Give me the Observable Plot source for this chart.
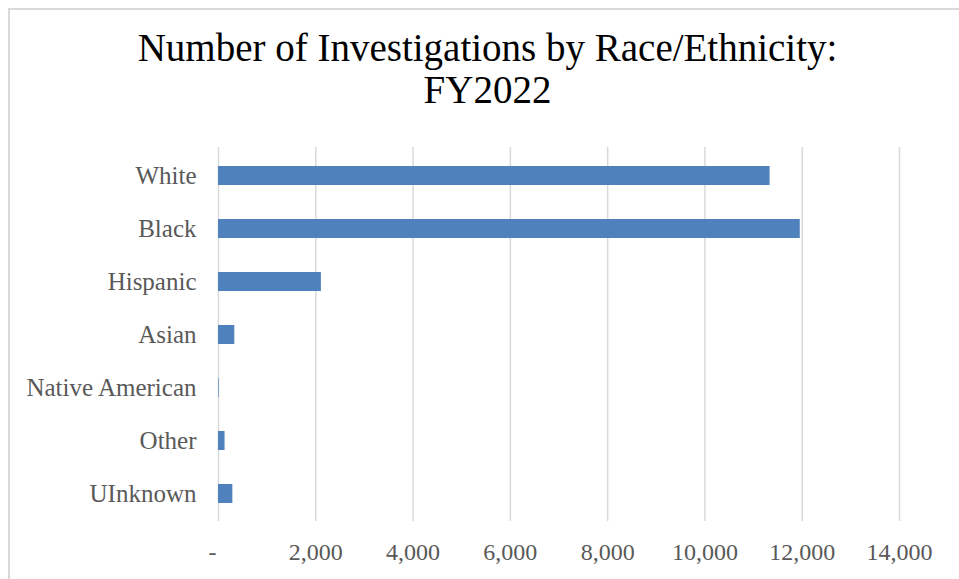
<!DOCTYPE html>
<html>
<head>
<meta charset="utf-8">
<script src="https://cdn.jsdelivr.net/npm/d3@7"></script>
<script src="https://cdn.jsdelivr.net/npm/@observablehq/plot@0.6"></script>
<style>
  html, body { margin: 0; padding: 0; background: #fff; }
  #wrap { position: relative; width: 959px; height: 579px; overflow: hidden; background: #fff; }
  #frame { position: absolute; left: 8px; top: 8px; width: 980px; height: 600px;
           border-left: 2px solid #d9d9d9; border-top: 2px solid #d9d9d9; }
  #title { position: absolute; left: 0; width: 975px; top: 27px; text-align: center;
           font-family: "Liberation Serif", "DejaVu Serif", serif; font-size: 39px; line-height: 42px; color: #000; }
  #chart { position: absolute; left: 0; top: 130px; }
  #chart text { font-family: "Liberation Serif", serif; }
</style>
</head>
<body>
<div id="wrap">
  <div id="frame"></div>
  <div id="title">Number of Investigations by Race/Ethnicity:<br>FY2022</div>
  <div id="chart"></div>
</div>
<script>
const categories = ["White", "Black", "Hispanic", "Asian", "Native American", "Other", "UInknown"];
const values = [11340, 11960, 2115, 335, 12, 135, 295];
const xTicks = [0, 2000, 4000, 6000, 8000, 10000, 12000, 14000];

const data = categories.map((c, i) => ({category: c, value: values[i]}));
const fmt = d => d === 0 ? "-\u00a0\u00a0" : d3.format(",")(d);

const plot = Plot.plot({
  width: 959,
  height: 449,
  marginTop: 17,
  marginBottom: 58,
  marginLeft: 218,
  marginRight: 60,
  style: {fontFamily: "Liberation Serif, serif", fontSize: "20px", color: "#595959", background: "transparent"},
  x: {domain: [0, 14000], ticks: xTicks, tickFormat: fmt, label: null},
  y: {domain: categories, paddingInner: 0.644, paddingOuter: 0.322, label: null},
  marks: [
    Plot.gridX(xTicks, {stroke: "#d9d9d9", strokeOpacity: 1, strokeWidth: 1.5}),
    Plot.barX(data, {x: "value", y: "category", fill: "#4f81bd"}),
    Plot.axisX({ticks: xTicks, tickFormat: fmt, tickSize: 0, tickPadding: 21, fontSize: 24, fill: "#595959", label: null}),
    Plot.axisY({tickSize: 0, tickPadding: 22, fontSize: 25, fill: "#595959", label: null})
  ]
});
document.getElementById("chart").appendChild(plot);
</script>
</body>
</html>
